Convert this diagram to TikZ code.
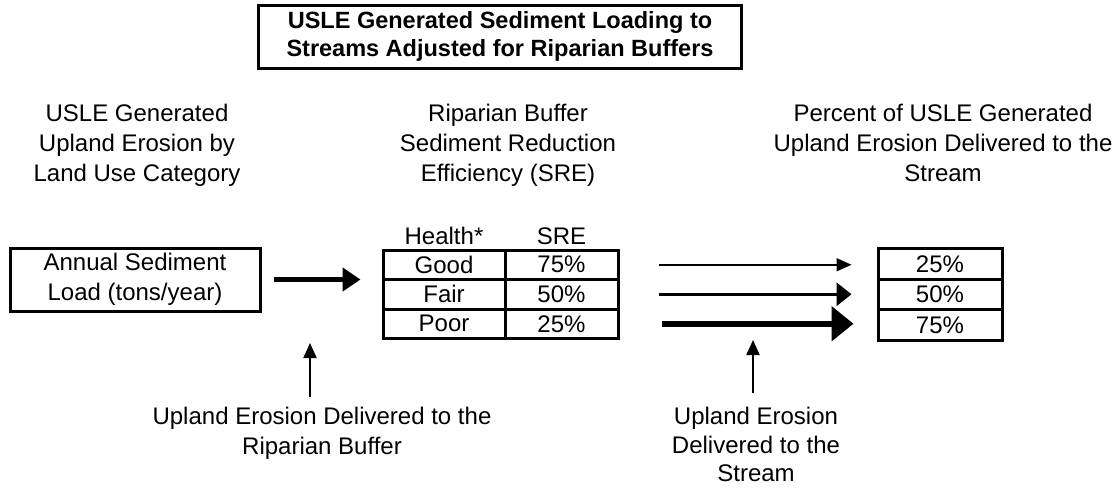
\documentclass[tikz,border=0pt]{standalone}
\usepackage{fontspec}
\setmainfont{Liberation Sans}
\usetikzlibrary{arrows.meta}
\tikzset{
  box/.style={draw,line width=3pt,inner sep=0pt,align=center},
  cell/.style={draw,line width=3pt,inner sep=0pt},
  txt/.style={align=center,inner sep=0pt,anchor=north},
  uparrow/.style={line width=2pt,-{Triangle[length=15pt,width=13pt]}},
}
\begin{document}
\begin{tikzpicture}[x=1pt,y=-1pt,font=\fontsize{24}{30}\selectfont]
\useasboundingbox (0,0) rectangle (1116,488);
% title
\node[box,minimum width=483pt,minimum height=63pt,
  font=\fontsize{23.5}{28}\selectfont\bfseries] (title) at (500,36.5)
  {USLE Generated Sediment Loading to\\Streams Adjusted for Riparian Buffers};
% column headings
\node[txt] (upland) at (137,104) {USLE Generated\\Upland Erosion by\\Land Use Category};
\node[txt] (sre) at (508,104) {Riparian Buffer\\Sediment Reduction\\Efficiency (SRE)};
\node[txt] (percent) at (943,104) {Percent of USLE Generated\\Upland Erosion Delivered to the\\Stream};
\node[box,minimum width=250pt,minimum height=63pt] (load) at (135,279.5)
  {Annual Sediment\\Load (tons/year)};
% tables
\node[anchor=base,inner sep=0pt] (healthhd) at (444,244) {Health*};
\node[anchor=base,inner sep=0pt] (srehd) at (561.5,244) {SRE};
\foreach \h/\s/\p/\y/\z [count=\i] in {Good/75/25/264.75/264,Fair/50/50/294.25/294.5,Poor/25/75/323.75/325}{
  \node[cell,minimum width=122pt,minimum height=29.5pt] (h\i) at (444,\y) {\h};
  \node[cell,minimum width=113pt,minimum height=29.5pt] (s\i) at (561.5,\y) {\s\%};
  \node[cell,minimum width=124pt,minimum height=30.5pt] (p\i) at (940,\z) {\p\%};
}
% arrows
\draw[line width=5pt,-{Triangle[length=18pt,width=23pt]},shorten <=12pt,shorten >=21pt]
  (load.east) -- (load.east -| h1.west);
\draw[line width=1.5pt,-{Triangle[length=15pt,width=13pt]},shorten <=39pt,shorten >=25pt]
  (s1.east) -- (s1.east -| p1.west);
\draw[line width=3pt,-{Triangle[length=15pt,width=23pt]},shorten <=39pt,shorten >=25pt]
  (s2.east) -- (s2.east -| p2.west);
\draw[line width=6pt,-{Triangle[length=22pt,width=34pt]},shorten <=42pt,shorten >=23pt]
  (s3.east) -- (s3.east -| p3.west);
% notes below
\node[txt] (buffer) at (322,407) {Upland Erosion Delivered to the\\Riparian Buffer};
\node[txt,font=\fontsize{24}{28.5}\selectfont] (stream) at (756,407) {Upland Erosion\\Delivered to the\\Stream};
\coordinate (inflow) at (310,343);
\coordinate (outflow) at (753,340);
\draw[uparrow,shorten <=10pt] (inflow |- buffer.north) -- (inflow);
\draw[uparrow,shorten <=14pt] (outflow |- stream.north) -- (outflow);
\end{tikzpicture}
\end{document}
